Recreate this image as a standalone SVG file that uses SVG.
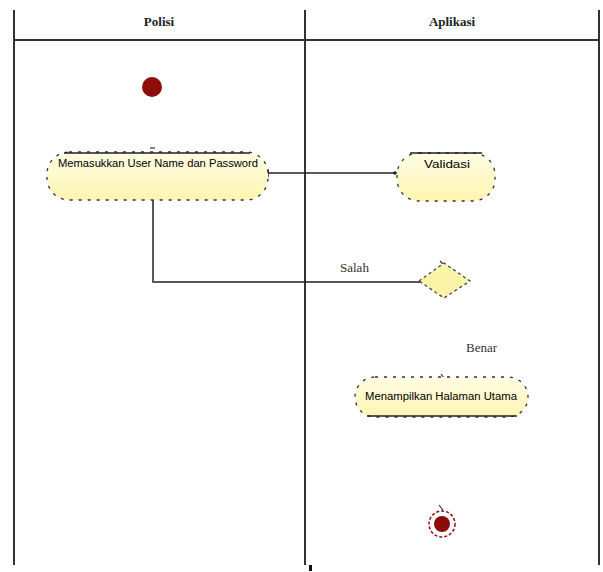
<svg xmlns="http://www.w3.org/2000/svg" width="603" height="572" viewBox="0 0 603 572">
  <defs>
    <linearGradient id="actFill" x1="0" y1="0" x2="0" y2="1">
      <stop offset="0" stop-color="#fffde6"/>
      <stop offset="1" stop-color="#fff5b0"/>
    </linearGradient>
    <style>
      .lane { stroke: #333; stroke-width: 2; fill: none; }
      .title { font-family: "Liberation Serif", "Times New Roman", serif; font-size: 13px; font-weight: bold; fill: #222; text-anchor: middle; }
      .act { fill: url(#actFill); stroke: #333; stroke-width: 1.3; stroke-dasharray: 3 6; }
      .actTop { stroke: #222; stroke-width: 1.5; }
      .actText { font-family: "Liberation Sans", Arial, sans-serif; font-size: 10px; fill: #000; text-anchor: middle; }
      .guard { font-family: "Liberation Serif", "Times New Roman", serif; font-size: 13px; fill: #333; }
      .flow { stroke: #222; stroke-width: 1.5; fill: none; }
      .tick { stroke: #333; stroke-width: 1.2; }
    </style>
  </defs>

  <rect width="603" height="572" fill="#ffffff"/>

  <!-- swimlanes -->
  <g id="lanes">
    <line class="lane" x1="14" y1="10" x2="14" y2="565"/>
    <line class="lane" x1="305" y1="10" x2="305" y2="565"/>
    <line class="lane" x1="599" y1="10" x2="599" y2="565"/>
    <line class="lane" x1="14" y1="40" x2="599" y2="40"/>
    <text class="title" x="159" y="26">Polisi</text>
    <text class="title" x="452" y="26">Aplikasi</text>
    <rect x="309" y="565" width="3" height="6" fill="#111"/>
  </g>

  <!-- connectors -->
  <g id="connectors">
    <line class="flow" x1="268" y1="173" x2="395" y2="173"/>
    <circle cx="395" cy="173" r="1.8" fill="#222"/>
    <line class="flow" x1="268" y1="169" x2="268" y2="177"/>
    <polyline class="flow" points="153,200 153,282 420,282"/>
    <text class="guard" x="340" y="272">Salah</text>
    <text class="guard" x="466" y="352" font-size="14" fill="#111">Benar</text>
    <line class="tick" x1="440" y1="261" x2="444" y2="265"/>
    <line class="tick" x1="441" y1="374" x2="444" y2="378"/>
    <line class="tick" x1="439" y1="505" x2="443" y2="510"/>
    <line class="tick" x1="150" y1="148" x2="155" y2="148"/>
  </g>

  <!-- initial node -->
  <g id="start">
    <circle cx="152" cy="87" r="10" fill="#8e0b0b"/>
  </g>

  <!-- login input -->
  <g id="inputLogin">
    <rect class="act" x="47" y="152" width="221" height="48" rx="22"/>
    <line class="actTop" x1="64" y1="153" x2="250" y2="153"/>
    <text class="actText" x="158" y="167" textLength="200" lengthAdjust="spacingAndGlyphs">Memasukkan User Name dan Password</text>
  </g>

  <!-- validation -->
  <g id="validasi">
    <rect class="act" x="397" y="153" width="98" height="48" rx="22"/>
    <line class="actTop" x1="410" y1="153" x2="482" y2="153"/>
    <text class="actText" x="447" y="168" font-size="9" textLength="46" lengthAdjust="spacingAndGlyphs">Validasi</text>
  </g>

  <!-- decision -->
  <g id="decision">
    <polygon points="419,281 444,263 470,281 444,298" fill="#fbf3a8" stroke="#444" stroke-width="1.3" stroke-dasharray="3 3"/>
  </g>

  <!-- main page -->
  <g id="halamanUtama">
    <rect class="act" x="355" y="377" width="173" height="40" rx="20"/>
    <line class="actTop" x1="367" y1="416" x2="517" y2="416"/>
    <text class="actText" x="441" y="400" textLength="152" lengthAdjust="spacingAndGlyphs">Menampilkan Halaman Utama</text>
  </g>

  <!-- final node -->
  <g id="end">
    <circle cx="442" cy="524" r="13" fill="none" stroke="#8e0b0b" stroke-width="1.5" stroke-dasharray="3 2"/>
    <circle cx="442" cy="524" r="8" fill="#8e0b0b"/>
  </g>
</svg>
